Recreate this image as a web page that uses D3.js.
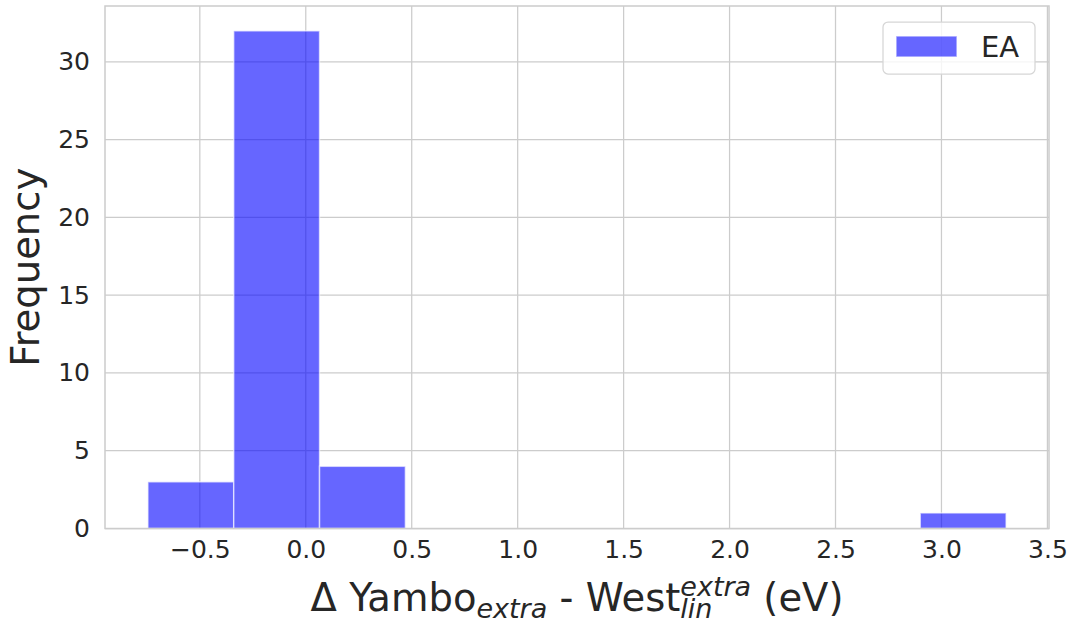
<!DOCTYPE html>
<html>
<head>
<meta charset="utf-8">
<script src="https://cdn.jsdelivr.net/npm/d3@7"></script>
<style>
  html, body { margin: 0; padding: 0; background: #ffffff; }
  svg { display: block; }
  text { font-family: "DejaVu Sans", sans-serif; fill: #262626; }
</style>
</head>
<body>
<svg id="chart" width="1076" height="624"></svg>
<script>
// ---- data ----
const binEdges = [-0.745, -0.34, 0.065, 0.47, 0.875, 1.28, 1.685, 2.09, 2.495, 2.9, 3.305];
const counts   = [3, 32, 4, 0, 0, 0, 0, 0, 0, 1];
const seriesName = "EA";
const xTicks = [-0.5, 0.0, 0.5, 1.0, 1.5, 2.0, 2.5, 3.0, 3.5];
const xTickLabels = ["\u22120.5", "0.0", "0.5", "1.0", "1.5", "2.0", "2.5", "3.0", "3.5"];
const yTicks = [0, 5, 10, 15, 20, 25, 30];
const yTickLabels = ["0", "5", "10", "15", "20", "25", "30"];
const yLabel = "Frequency";

// ---- layout ----
const svg = d3.select("#chart");
const margin = {left: 105, top: 6, right: 27, bottom: 95.5};
const W = 1076, H = 624;
const iw = W - margin.left - margin.right;
const ih = H - margin.top - margin.bottom;
const g = svg.append("g").attr("transform", `translate(${margin.left},${margin.top})`);

const xmin = binEdges[0], xmax = binEdges[binEdges.length - 1];
const pad = (xmax - xmin) * 0.05;
const x = d3.scaleLinear().domain([xmin - pad, xmax + pad]).range([0, iw]);
const y = d3.scaleLinear().domain([0, d3.max(counts) * 1.05]).range([ih, 0]);

const gridColor = "#cccccc";

// grid
g.append("g").selectAll("line").data(xTicks).join("line")
  .attr("x1", d => x(d)).attr("x2", d => x(d))
  .attr("y1", 0).attr("y2", ih)
  .attr("stroke", gridColor).attr("stroke-width", 1.25);
g.append("g").selectAll("line").data(yTicks).join("line")
  .attr("x1", 0).attr("x2", iw)
  .attr("y1", d => y(d)).attr("y2", d => y(d))
  .attr("stroke", gridColor).attr("stroke-width", 1.25);

// bars
const bins = counts.map((c, i) => ({x0: binEdges[i], x1: binEdges[i + 1], c}));
g.append("g").selectAll("rect").data(bins.filter(b => b.c > 0)).join("rect")
  .attr("x", d => x(d.x0))
  .attr("width", d => x(d.x1) - x(d.x0))
  .attr("y", d => y(d.c))
  .attr("height", d => y(0) - y(d.c))
  .attr("fill", "#0000ff").attr("fill-opacity", 0.6)
  .attr("stroke", "#ffffff").attr("stroke-opacity", 0.6).attr("stroke-width", 1.5);

// spines
g.append("rect").attr("x", 0).attr("y", 0).attr("width", iw).attr("height", ih)
  .attr("fill", "none").attr("stroke", gridColor).attr("stroke-width", 1.5);

// x ticks
const xAxis = d3.axisBottom(x).tickValues(xTicks).tickFormat((d, i) => xTickLabels[i]).tickSize(0).tickPadding(12);
const xa = g.append("g").attr("transform", `translate(0,${ih})`).call(xAxis);
xa.select(".domain").remove();
xa.selectAll("text").attr("font-size", 25).attr("font-family", "DejaVu Sans").attr("fill", "#262626");

// y ticks
const yAxis = d3.axisLeft(y).tickValues(yTicks).tickFormat((d, i) => yTickLabels[i]).tickSize(0).tickPadding(15);
const ya = g.append("g").call(yAxis);
ya.select(".domain").remove();
ya.selectAll("text").attr("font-size", 25).attr("font-family", "DejaVu Sans").attr("fill", "#262626");

// y label
svg.append("text")
  .attr("transform", `translate(39,${margin.top + ih / 2}) rotate(-90)`)
  .attr("text-anchor", "middle")
  .attr("font-size", 38.5)
  .text(yLabel);

// x label with math-like sub/superscripts
const fs = 38.5, sfs = 27;
const xl = svg.append("g");
let cx = 0;
function piece(txt, size, italic, dy) {
  const t = xl.append("text").attr("x", cx).attr("y", dy)
    .attr("font-size", size).attr("font-style", italic ? "italic" : "normal")
    .attr("xml:space", "preserve").style("white-space", "pre").text(txt);
  return t.node().getComputedTextLength();
}
cx += piece("\u0394 Yambo", fs, false, 0);
cx += piece("extra", sfs, true, 7);
cx += piece(" - West", fs, false, 0);
const wSup = piece("extra", sfs, true, -15);
const wSub = piece("lin", sfs, true, 7);
cx += Math.max(wSup, wSub);
cx += piece(" (eV)", fs, false, 0);
xl.attr("transform", `translate(${margin.left + iw / 2 - cx / 2},611)`);

// legend
const lg = svg.append("g");
lg.append("rect").attr("x", 883).attr("y", 22).attr("width", 152).attr("height", 52)
  .attr("rx", 5).attr("fill", "#ffffff").attr("fill-opacity", 0.8)
  .attr("stroke", "#d6d6d6").attr("stroke-width", 1.25);
lg.append("rect").attr("x", 896).attr("y", 36).attr("width", 61).attr("height", 21)
  .attr("fill", "#0000ff").attr("fill-opacity", 0.6)
  .attr("stroke", "#ffffff").attr("stroke-opacity", 0.6).attr("stroke-width", 1.5);
lg.append("text").attr("x", 981).attr("y", 47).attr("dominant-baseline", "central")
  .attr("font-size", 29).text(seriesName);
</script>
</body>
</html>
